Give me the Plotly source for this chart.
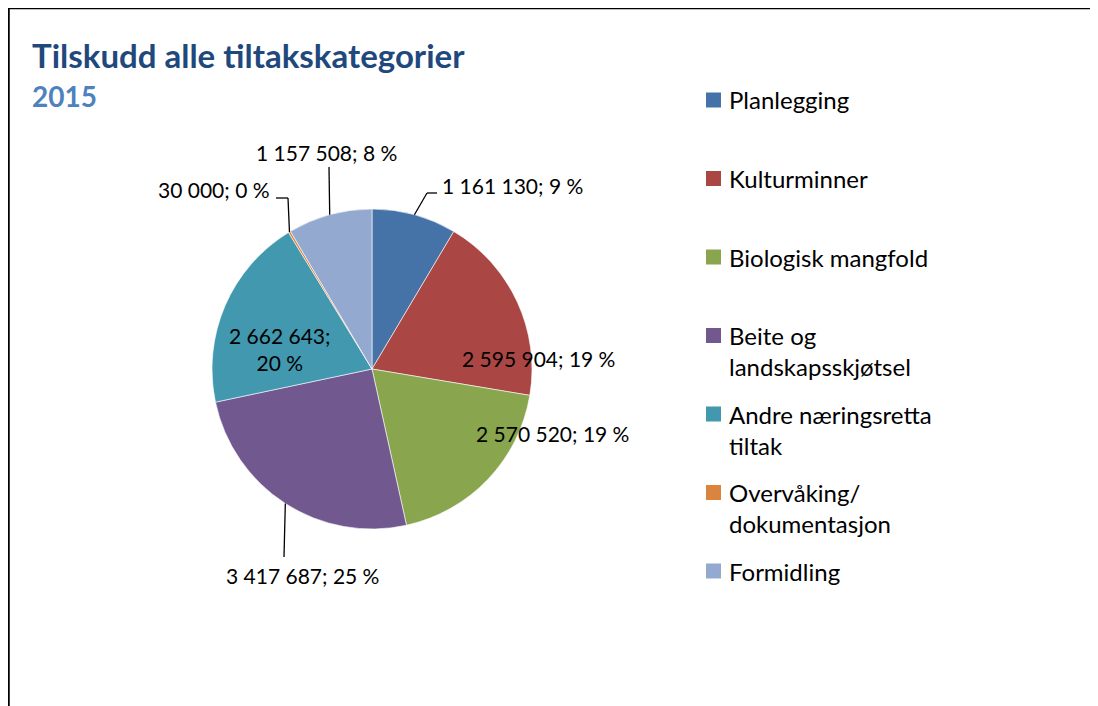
import math
import plotly.graph_objects as go

# data
categories = ["Planlegging", "Kulturminner", "Biologisk mangfold",
              "Beite og<br>landskapsskjøtsel", "Andre næringsretta<br>tiltak",
              "Overvåking/<br>dokumentasjon", "Formidling"]
amounts = [1161130, 2595904, 2570520, 3417687, 2662643, 30000, 1157508]
percents = [9, 19, 19, 25, 20, 0, 8]   # as printed on the chart
colors = ["#4572A7", "#AA4643", "#89A54E", "#71588F", "#4198AF", "#DB843D", "#93A9CF"]

# page puts the figure 8px in from the window corner
OFF = 8
W, H = 1098 - OFF, 706 - OFF
CX, CY, R = 372, 369, 160   # pie centre / radius in window pixels


def px(x):
    return (x - OFF) / W


def py(y):
    return 1 - (y - OFF) / H


def fmt(v):
    return f"{v:,}".replace(",", " ")


total = sum(amounts)
label_text = [f"{fmt(v)}; {p} %" for v, p in zip(amounts, percents)]
label_text[4] = f"{fmt(amounts[4])};<br>{percents[4]} %"

fig = go.Figure(go.Pie(
    labels=[c.replace("<br>", " ") for c in categories],
    values=amounts,
    sort=False,
    direction="clockwise",
    rotation=0,
    marker=dict(colors=colors, line=dict(color="white", width=0.6)),
    textinfo="none",
    hoverinfo="label+value+percent",
    showlegend=False,
    domain=dict(x=[px(CX - R), px(CX + R)], y=[py(CY + R), py(CY - R)]),
))


def edge_point(i):
    # middle of slice i on the rim, computed from the values
    start = sum(amounts[:i]) / total
    mid = (start + amounts[i] / total / 2) * 2 * math.pi
    return CX + R * math.sin(mid), CY - R * math.cos(mid)


# label positions and leader elbows
label_pos = {0: (512, 185), 1: (538, 358), 2: (552, 433), 3: (302, 575),
             4: (280, 349), 5: (214, 190), 6: (326, 152)}
leaders = {0: [(427, 193), (437, 193)], 3: [(284, 557)],
           5: [(288, 198), (276, 198)], 6: [(329, 167)]}

shapes = []
for i, pts in leaders.items():
    x0, y0 = edge_point(i)
    path = [(x0, y0)] + pts
    for (a, b), (c, d) in zip(path[:-1], path[1:]):
        shapes.append(dict(type="line", xref="paper", yref="paper",
                           x0=px(a), y0=py(b), x1=px(c), y1=py(d),
                           line=dict(color="black", width=1.3)))

# frame (left + top)
shapes.append(dict(type="line", xref="paper", yref="paper", x0=px(8.5), y0=py(8), x1=1, y1=py(8),
                   line=dict(color="black", width=2.5)))
shapes.append(dict(type="line", xref="paper", yref="paper", x0=px(8.5), y0=py(8), x1=px(8.5), y1=0,
                   line=dict(color="black", width=2.5)))

annotations = []
for i, (x, y) in label_pos.items():
    annotations.append(dict(text=label_text[i], x=px(x), y=py(y), xref="paper", yref="paper",
                            showarrow=False, xanchor="center", yanchor="middle",
                            font=dict(family="Lato", size=21, color="black")))

# legend
LEG_FONT = 24
line_h = LEG_FONT * 1.3
for i, (name, col) in enumerate(zip(categories, colors)):
    c = 100 + 78.5 * i
    shapes.append(dict(type="rect", xref="paper", yref="paper",
                       x0=px(706), x1=px(721), y0=py(c - 7.5), y1=py(c + 7.5),
                       fillcolor=col, line=dict(width=0)))
    n_lines = name.count("<br>") + 1
    annotations.append(dict(text=name, x=px(727), y=py(c + (n_lines - 1) * line_h / 2),
                            xref="paper", yref="paper", showarrow=False,
                            xanchor="left", yanchor="middle", align="left",
                            font=dict(family="Lato", size=LEG_FONT, color="black")))

annotations.append(dict(text="<b>Tilskudd alle tiltakskategorier</b>", x=px(30), y=py(55),
                        xref="paper", yref="paper", showarrow=False, xanchor="left", yanchor="middle",
                        font=dict(family="Lato", size=33, color="#1F497D")))
annotations.append(dict(text="<b>2015</b>", x=px(30), y=py(96),
                        xref="paper", yref="paper", showarrow=False, xanchor="left", yanchor="middle",
                        font=dict(family="Lato", size=28, color="#4F81BD")))

fig.update_layout(
    width=W, height=H,
    margin=dict(l=0, r=0, t=0, b=0),
    paper_bgcolor="white",
    showlegend=False,
    shapes=shapes,
    annotations=annotations,
)

fig.write_html("out.html")
